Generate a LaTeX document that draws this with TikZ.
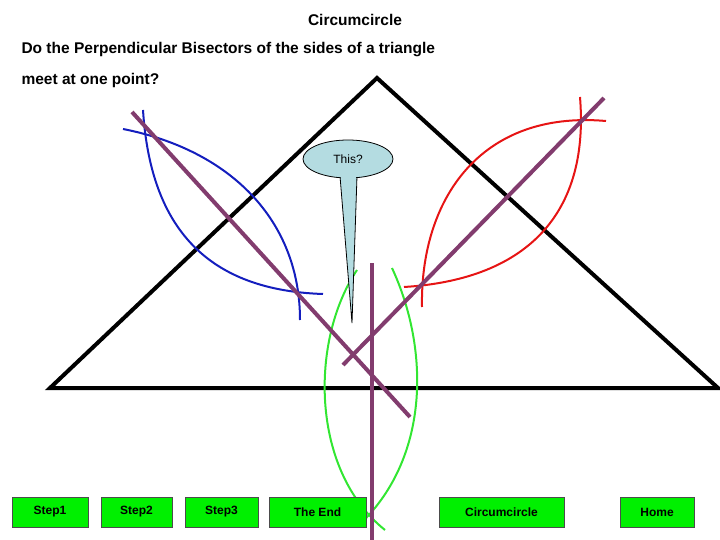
\documentclass[tikz,border=0pt]{standalone}
\usepackage{fontspec}
\setmainfont{Liberation Sans}
\usetikzlibrary{shapes.geometric}
\definecolor{bubcol}{RGB}{180,220,225}
\definecolor{biscol}{RGB}{130,60,110}
\definecolor{bluecol}{RGB}{20,30,190}
\definecolor{redcol}{RGB}{230,20,20}
\definecolor{greencol}{RGB}{50,230,50}
\definecolor{btncol}{RGB}{0,240,0}
\begin{document}
\begin{tikzpicture}[x=1pt,y=-1pt,
  btn/.style={draw=black!70,fill=btncol,line width=1pt,font=\bfseries\fontsize{12}{14}\selectfont,minimum height=30pt,inner sep=0pt},
  tri/.style={line width=4pt,line join=miter},
  bis/.style={line width=4pt,color=biscol},
  arcb/.style={line width=2pt,color=bluecol},
  arcr/.style={line width=2pt,color=redcol},
  arcg/.style={line width=2pt,color=greencol},
  title/.style={font=\bfseries\fontsize{15.5}{19}\selectfont}]
\useasboundingbox (0,0) rectangle (720,540);
\node[title] (t1) at (355,20) {Circumcircle};
\node[title,anchor=west] (t2) at (18,50) {Do the Perpendicular Bisectors of the sides of a triangle};
\node[title,anchor=west] (t3) at (18,80) {meet at one point?};
% triangle
\coordinate (A) at (50,388); \coordinate (B) at (377,78); \coordinate (C) at (718,388);
\draw[tri] (A) -- (B) -- (C) -- cycle;
% blue arcs
\draw[arcb] (123,129) .. controls (230,150) and (300,220) .. (300,320);
\draw[arcb] (143,110) .. controls (150,220) and (200,290) .. (323,294);
% red arcs
\draw[arcr] (606,121) .. controls (480,110) and (420,200) .. (422,307);
\draw[arcr] (580,97) .. controls (590,220) and (520,280) .. (404,287);
% green arcs
\draw[arcg] (357,270) .. controls (310,340) and (310,470) .. (385,530);
\draw[arcg] (392,268) .. controls (430,350) and (430,460) .. (357,527);
% bisectors
\coordinate (p1) at (132,112); \coordinate (p2) at (410,417);
\coordinate (q1) at (604,98); \coordinate (q2) at (343,365);
\coordinate (r1) at (371.5,263); \coordinate (r2) at (371.5,540);
\draw[bis] (p1) -- (p2);
\draw[bis] (q1) -- (q2);
\draw[bis] (r1) -- (r2);
% speech bubble
\coordinate (tipL) at (340,176); \coordinate (tipR) at (357,176); \coordinate (tip) at (352,323);
\draw[fill=bubcol,line width=0.8pt] (tipL) -- (tip) -- (tipR);
\node[draw,ellipse,fill=bubcol,line width=0.8pt,minimum width=90pt,minimum height=38pt,inner sep=0pt,font=\fontsize{12}{14}\selectfont] (bub) at (348,159) {This?};
\fill[bubcol] (341,172) rectangle (356,180);
% buttons
\node[btn,minimum width=76pt] (s1) at (50,512) {Step1};
\node[btn,minimum width=71pt] (s2) at (136.5,512) {Step2};
\node[btn,minimum width=73pt] (s3) at (221.5,512) {Step3};
\node[btn,minimum width=97pt] (s4) at (317.5,512) {The End};
\node[btn,minimum width=125pt] (s5) at (501.5,512) {Circumcircle};
\node[btn,minimum width=74pt] (s6) at (657,512) {Home};
\end{tikzpicture}
\end{document}
